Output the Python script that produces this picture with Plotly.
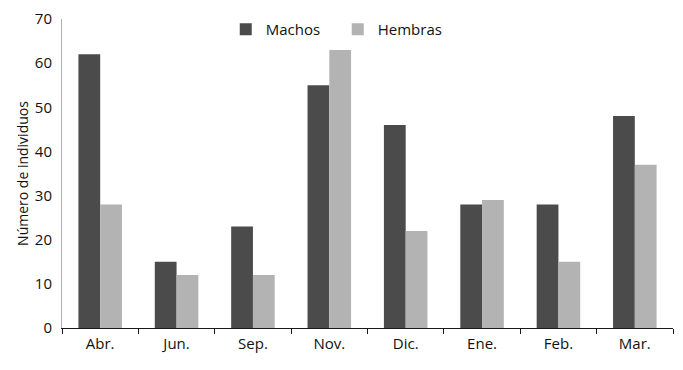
import plotly.graph_objects as go

meses = ["Abr.", "Jun.", "Sep.", "Nov.", "Dic.", "Ene.", "Feb.", "Mar."]
machos = [62, 15, 23, 55, 46, 28, 28, 48]
hembras = [28, 12, 12, 63, 22, 29, 15, 37]
y_ticks = [0, 10, 20, 30, 40, 50, 60, 70]

FONT = "Open Sans"
TXT = "#111111"

fig = go.Figure()
fig.add_trace(go.Bar(x=meses, y=machos, name="Machos", marker=dict(color="#4b4b4b", line=dict(width=0))))
fig.add_trace(go.Bar(x=meses, y=hembras, name="Hembras", marker=dict(color="#b3b3b3", line=dict(width=0))))

fig.update_layout(
    width=683, height=370,
    margin=dict(l=62, r=10, t=19, b=42, autoexpand=False),
    paper_bgcolor="white", plot_bgcolor="white",
    barmode="group", bargap=0.43, bargroupgap=0,
    font=dict(family=FONT, size=15, color=TXT),
    showlegend=True,
    legend=dict(orientation="h", x=0.268, xanchor="left", y=0.966, yanchor="middle",
                font=dict(size=15, family=FONT, color=TXT), entrywidth=67, entrywidthmode="pixels",
                bgcolor="rgba(0,0,0,0)", itemclick=False),
    xaxis=dict(type="category", showline=True, linecolor="#1a1a1a", linewidth=1.2,
               ticks="outside", tickson="boundaries", ticklen=5, tickcolor="#1a1a1a",
               tickfont=dict(size=15), showgrid=False, zeroline=False, ticklabelstandoff=2),
    yaxis=dict(range=[0, 70], tickvals=y_ticks, showline=True, linecolor="#b0b0b0", linewidth=1,
               ticks="", showgrid=False, zeroline=False, tickfont=dict(size=15),
               ticklabelstandoff=6,
               title=dict(text="Número de individuos", font=dict(size=14), standoff=2)),
)

fig.write_html("out.html", config={"displayModeBar": False},
               post_script="document.body.style.margin='0';")
